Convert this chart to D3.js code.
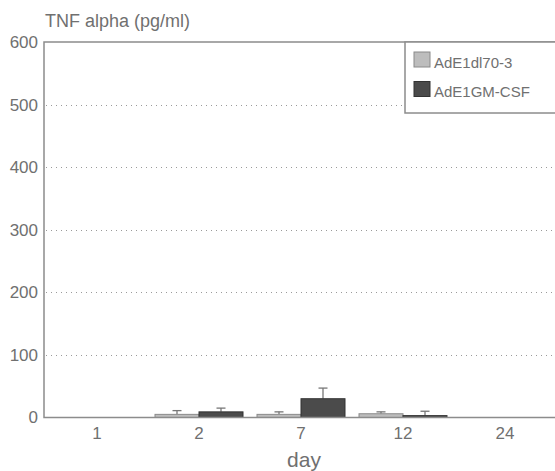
<!DOCTYPE html>
<html>
	<head>
		<script src="https://d3js.org/d3.v7.min.js"></script>
		<style>
			body { margin: 0; background: #fff; }
			text { font-family: "Liberation Sans", Arial, Helvetica, sans-serif; fill: #707070; }
		</style>
	</head>
	<body>
		<script>
			var days = ["1", "2", "7", "12", "24"];
			var series = ["AdE1dl70-3", "AdE1GM-CSF"];
			var dl70 = [0, 5, 5, 6, 0];
			var dl70_sd = [0, 6, 4, 3, 0];
			var gmcsf = [0, 9, 30, 3, 0];
			var gmcsf_sd = [0, 6, 17, 7, 0];
			var y_ticks = [0, 100, 200, 300, 400, 500, 600];
			var fills = ["#bdbdbd", "#4b4b4b"];
			var strokes = ["#8a8a8a", "#333333"];

			var width = 555;
			var height = 471;
			var plot_left = 44, plot_top = 42, plot_bottom = 417.5;

			var svg = d3.select('body').append('svg')
				.attr('width', width)
				.attr('height', height);

			var x = d3.scaleBand()
				.domain(days)
				.range([46, 556]);

			var y = d3.scaleLinear()
				.domain([0, 600])
				.range([plot_bottom, plot_top]);

			// dotted grid
			svg.selectAll('.grid')
				.data(y_ticks.filter(function (d) { return d > 0 && d < 600; }))
				.enter()
				.append('line')
				.attr('x1', plot_left + 2)
				.attr('x2', width)
				.attr('y1', function (d) { return Math.round(y(d)) + 0.5; })
				.attr('y2', function (d) { return Math.round(y(d)) + 0.5; })
				.style('stroke', '#9a9a9a')
				.style('stroke-width', 1)
				.style('stroke-dasharray', '1,4');

			// y axis
			var yAxis = svg.append('g')
				.attr('transform', 'translate(' + plot_left + ',0)')
				.call(d3.axisLeft(y).tickValues(y_ticks).tickSize(0).tickPadding(6));
			yAxis.select('.domain').remove();
			yAxis.selectAll('text')
				.style('font-size', '17px')
				.style('fill', '#707070');

			// x axis
			var xAxis = svg.append('g')
				.attr('transform', 'translate(0,' + plot_bottom + ')')
				.call(d3.axisBottom(x).tickSize(0).tickPadding(9));
			xAxis.select('.domain').remove();
			xAxis.selectAll('text')
				.style('font-size', '17px')
				.style('fill', '#707070');

			// bars
			var bw = 44;
			var groups = [dl70, gmcsf];
			var sds = [dl70_sd, gmcsf_sd];
			for (var s = 0; s < 2; s++) {
				var rows = days.map(function (d, i) {
					return { day: d, v: groups[s][i], sd: sds[s][i] };
				});
				var off = s == 0 ? -bw : 0;
				var g = svg.append('g');
				g.selectAll('line.err')
					.data(rows.filter(function (d) { return d.sd > 0; }))
					.enter()
					.append('line')
					.attr('x1', function (d) { return x(d.day) + x.bandwidth() / 2 + off + bw / 2; })
					.attr('x2', function (d) { return x(d.day) + x.bandwidth() / 2 + off + bw / 2; })
					.attr('y1', function (d) { return y(d.v); })
					.attr('y2', function (d) { return y(d.v + d.sd); })
					.style('stroke', '#777')
					.style('stroke-width', 1.3);
				g.selectAll('line.cap')
					.data(rows.filter(function (d) { return d.sd > 0; }))
					.enter()
					.append('line')
					.attr('x1', function (d) { return x(d.day) + x.bandwidth() / 2 + off + bw / 2 - 4.5; })
					.attr('x2', function (d) { return x(d.day) + x.bandwidth() / 2 + off + bw / 2 + 4.5; })
					.attr('y1', function (d) { return y(d.v + d.sd); })
					.attr('y2', function (d) { return y(d.v + d.sd); })
					.style('stroke', '#777')
					.style('stroke-width', 1.3);
				g.selectAll('rect')
					.data(rows.filter(function (d) { return d.v > 0; }))
					.enter()
					.append('rect')
					.attr('x', function (d) { return x(d.day) + x.bandwidth() / 2 + off; })
					.attr('y', function (d) { return y(d.v); })
					.attr('width', bw)
					.attr('height', function (d) { return plot_bottom - y(d.v); })
					.style('fill', fills[s])
					.style('stroke', strokes[s])
					.style('stroke-width', 1);
			}

			// frame: left, top and baseline
			svg.append('path')
				.attr('d', 'M' + width + ',' + plot_top + 'H' + plot_left + 'V' + plot_bottom + 'H' + width)
				.style('fill', 'none')
				.style('stroke', '#8c8c8c')
				.style('stroke-width', 1.5);

			// legend
			var lg = svg.append('g');
			lg.append('rect')
				.attr('x', 405)
				.attr('y', plot_top)
				.attr('width', 160)
				.attr('height', 71)
				.style('fill', '#fff')
				.style('stroke', '#8c8c8c')
				.style('stroke-width', 1.5);
			lg.selectAll('rect.key')
				.data(series)
				.enter()
				.append('rect')
				.attr('x', 414)
				.attr('y', function (d, i) { return 52 + i * 29.5; })
				.attr('width', 16)
				.attr('height', 15)
				.style('fill', function (d, i) { return fills[i]; })
				.style('stroke', function (d, i) { return strokes[i]; });
			lg.selectAll('text')
				.data(series)
				.enter()
				.append('text')
				.attr('x', 434)
				.attr('y', function (d, i) { return 67.5 + i * 29.5; })
				.style('font-size', '15px')
				.text(function (d) { return d; });

			// titles
			svg.append('text')
				.attr('x', 45)
				.attr('y', 26.5)
				.style('font-size', '18px')
				.text('TNF alpha (pg/ml)');

			svg.append('text')
				.attr('x', 304)
				.attr('y', 467)
				.attr('text-anchor', 'middle')
				.style('font-size', '21px')
				.text('day');
		</script>
	</body>
</html>
